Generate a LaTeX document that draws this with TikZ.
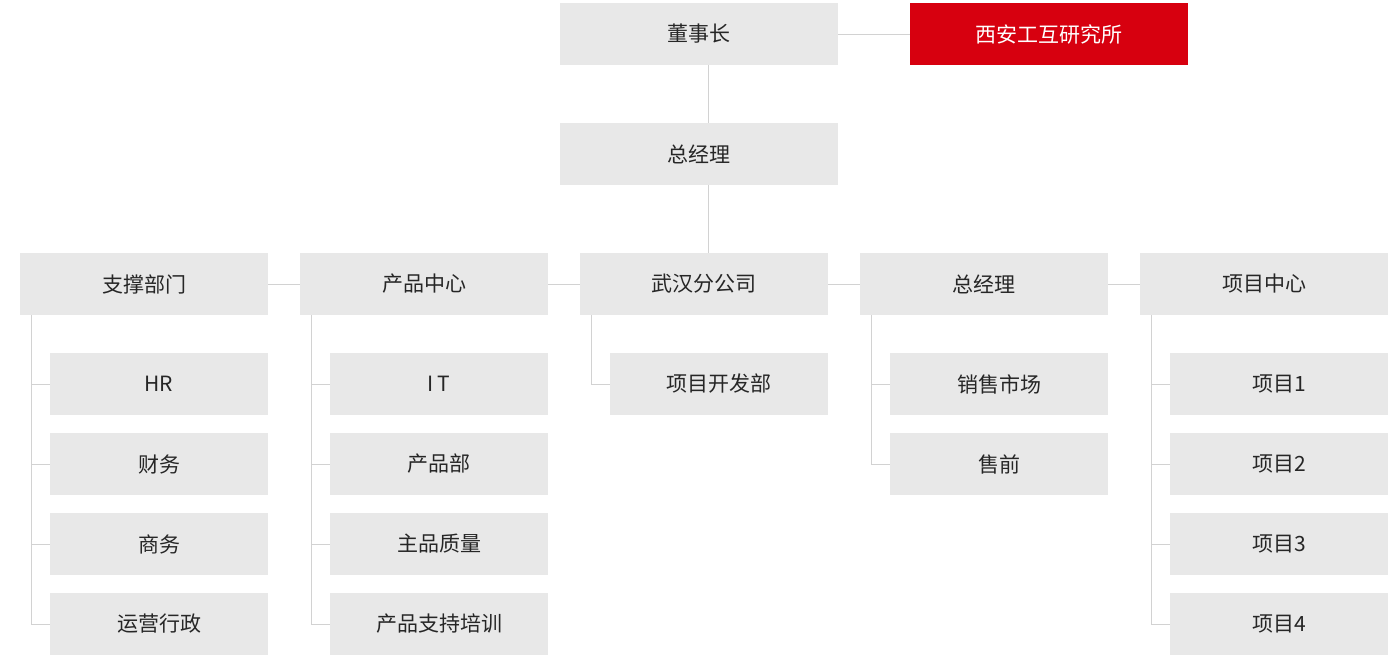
\documentclass[tikz,border=0pt]{standalone}
\usepackage{fontspec}
\setmainfont{Noto Sans CJK SC}
\definecolor{boxg}{HTML}{E8E8E8}
\definecolor{lineg}{HTML}{D2D2D2}
\definecolor{redc}{HTML}{D7000F}
\begin{document}
\begin{tikzpicture}[x=1pt,y=-1pt,
  box/.style={fill=boxg,minimum height=62pt,inner sep=0pt,font=\fontsize{21}{24}\selectfont,text=black!85},
  wbox/.style={box,minimum width=248pt},
  cbox/.style={box,minimum width=218pt},
  conn/.style={draw=lineg,line width=0.8pt}]
\useasboundingbox[fill=white] (0,0) rectangle (1400,660);
\node[box,minimum width=278pt] (dsz) at (699,34) {董事长};
\node[box,minimum width=278pt,fill=redc,text=white] (xa) at (1049,34) {西安工互研究所};
\node[box,minimum width=278pt] (zjl) at (699,154) {总经理};
\node[wbox] (r1) at (144,284) {支撑部门};
\node[wbox] (r2) at (424,284) {产品中心};
\node[wbox] (r3) at (704,284) {武汉分公司};
\node[wbox] (r4) at (984,284) {总经理};
\node[wbox] (r5) at (1264,284) {项目中心};
\foreach \n/\t/\y in {a1/HR/384,a2/财务/464,a3/商务/544,a4/运营行政/624}
  \node[cbox] (\n) at (159,\y) {\t};
\foreach \n/\t/\y in {b1/I\,T/384,b2/产品部/464,b3/主品质量/544,b4/产品支持培训/624}
  \node[cbox] (\n) at (439,\y) {\t};
\node[cbox] (c1) at (719,384) {项目开发部};
\foreach \n/\t/\y in {d1/销售市场/384,d2/售前/464}
  \node[cbox] (\n) at (999,\y) {\t};
\foreach \n/\t/\y in {e1/项目1/384,e2/项目2/464,e3/项目3/544,e4/项目4/624}
  \node[cbox] (\n) at (1279,\y) {\t};
\draw[conn] (dsz) -- (xa);
\draw[conn] (dsz.south -| 708,0) -- (zjl.north -| 708,0);
\draw[conn] (zjl.south -| 708,0) -- (r3.north -| 708,0);
\draw[conn] (r1) -- (r2); \draw[conn] (r2) -- (r3); \draw[conn] (r3) -- (r4); \draw[conn] (r4) -- (r5);
\foreach \p/\cs in {r1/{a1,a2,a3,a4},r2/{b1,b2,b3,b4},r3/{c1},r4/{d1,d2},r5/{e1,e2,e3,e4}}
  \foreach \c in \cs
    \draw[conn] ([xshift=12pt]\p.south west) |- (\c.west);
\end{tikzpicture}
\end{document}
